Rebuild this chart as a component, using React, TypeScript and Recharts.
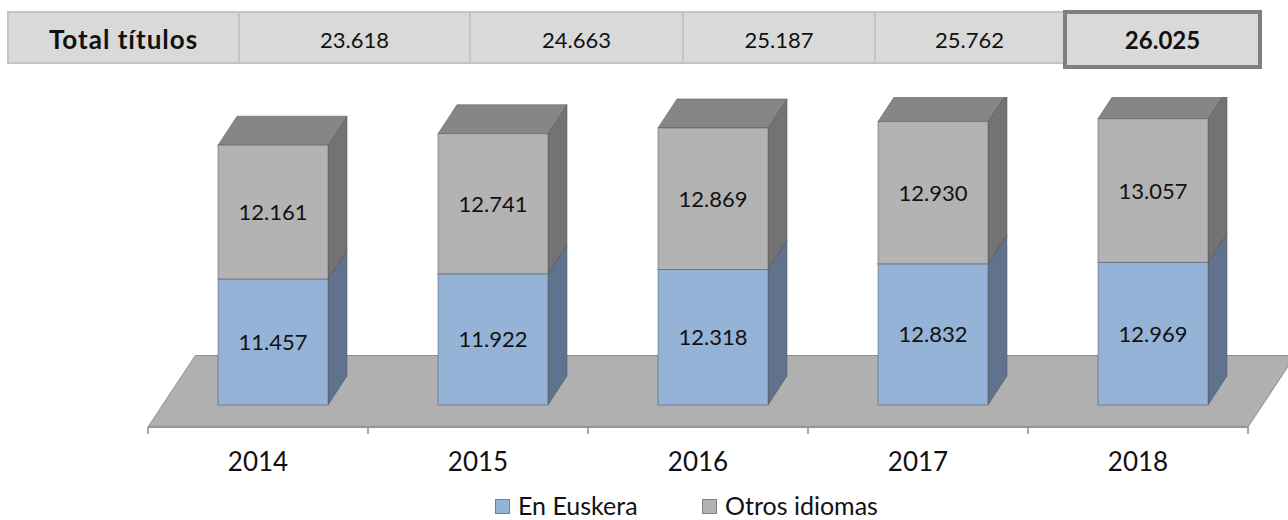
import React from 'react';
import { BarChart, Bar, XAxis, YAxis, ReferenceArea, LabelList, Legend } from 'recharts';

// values
const years = ['2014', '2015', '2016', '2017', '2018'];
const euskera = [11457, 11922, 12318, 12832, 12969];
const otros = [12161, 12741, 12869, 12930, 13057];
const totals = [23618, 24663, 25187, 25762, 26025];
const seriesNames = ['En Euskera', 'Otros idiomas'];
const totalLabel = 'Total títulos';

const data = years.map((year, i) => ({ year, euskera: euskera[i], otros: otros[i] }));

// layout
const W = 1288;
const H = 520;
const PLOT_LEFT = 148;
const PLOT_RIGHT = 1248;
const PLOT_TOP = 97;
const PLOT_BOTTOM = 427;
const AXIS_H = 60;
const BAND = (PLOT_RIGHT - PLOT_LEFT) / years.length;
const SHIFT_X = 15; // bars stand a bit back on the floor
const DX = 19;
const DY = 29;
const FONT = 'Lato, "Open Sans", sans-serif';

const cellEdges = [7, 238, 469, 682, 874, 1063, 1262];

const fmt = (n: number) => String(n).replace(/\B(?=(\d{3})+(?!\d))/g, '.');

const makeBox = (front: string, side: string, top: string) => (props: any) => {
  const { x, y, width, height } = props;
  if (height == null || height <= 0) return null;
  const fx = x + SHIFT_X;
  const edge = 'rgba(90,90,90,0.55)';
  return (
    <g>
      <polygon
        points={`${fx + width},${y + height} ${fx + width + DX},${y + height - DY} ${fx + width + DX},${y - DY} ${fx + width},${y}`}
        fill={side}
        stroke={edge}
        strokeWidth={1}
      />
      <polygon
        points={`${fx},${y} ${fx + DX},${y - DY} ${fx + width + DX},${y - DY} ${fx + width},${y}`}
        fill={top}
        stroke={edge}
        strokeWidth={1}
      />
      <rect x={fx} y={y} width={width} height={height} fill={front} stroke={edge} strokeWidth={1} />
    </g>
  );
};

const euskeraBox = makeBox('#95b3d7', '#5f738f', '#7a90ad');
const otrosBox = makeBox('#b3b3b3', '#737373', '#868686');

const Floor = (props: any) => {
  const { x, y, width, height } = props;
  const slant = (height * 47) / 71;
  return (
    <polygon
      points={`${x},${y + height} ${x + width},${y + height} ${x + width + slant},${y} ${x + slant},${y}`}
      fill="#b0b0b0"
      stroke="#8f8f8f"
      strokeWidth={1}
    />
  );
};

const renderValue = (props: any) => {
  const vb = props.viewBox || props;
  const x = (vb.x ?? props.x) + SHIFT_X + (vb.width ?? props.width) / 2;
  const y = (vb.y ?? props.y) + (vb.height ?? props.height) / 2;
  return (
    <text x={x} y={y + 8} textAnchor="middle" fontFamily={FONT} fontSize={22} fill="#111">
      {fmt(Number(props.value))}
    </text>
  );
};

const YearTick = (props: any) => {
  const { x, y, payload, index } = props;
  const half = BAND / 2;
  return (
    <g>
      <line x1={x - half} y1={y - 7} x2={x - half} y2={y} stroke="#8c8c8c" strokeWidth={1.5} />
      {index === years.length - 1 && (
        <line x1={x + half} y1={y - 7} x2={x + half} y2={y} stroke="#8c8c8c" strokeWidth={1.5} />
      )}
      <text x={x} y={y + 37} textAnchor="middle" fontFamily={FONT} fontSize={26} fill="#111">
        {payload.value}
      </text>
    </g>
  );
};

const legendColors = ['#95b3d7', '#b3b3b3'];

const renderLegend = () => (
  <div style={{ display: 'flex', alignItems: 'center', fontFamily: FONT, fontSize: 25, color: '#111', height: 29 }}>
    {seriesNames.map((name, i) => (
      <div key={name} style={{ display: 'flex', alignItems: 'center', width: i === 0 ? 207 : 'auto' }}>
        <span
          style={{
            display: 'inline-block',
            width: 15,
            height: 15,
            background: legendColors[i],
            border: '1px solid #7f7f7f',
            boxSizing: 'border-box',
            marginRight: 8,
            marginTop: 2,
          }}
        />
        <span style={{ lineHeight: '29px', whiteSpace: 'nowrap' }}>{name}</span>
      </div>
    ))}
  </div>
);

const TotalsRow = () => (
  <>
    {[totalLabel, ...totals.map(fmt)].map((txt, i) => {
      const last = i === cellEdges.length - 2;
      const left = cellEdges[i];
      const width = cellEdges[i + 1] - left;
      return (
        <div
          key={i}
          style={{
            position: 'absolute',
            left,
            top: last ? 10 : 11,
            width,
            height: last ? 59 : 53,
            boxSizing: 'border-box',
            background: '#d9d9d9',
            border: last ? '4px solid #7f7f7f' : '2px solid #c4c4c4',
            borderRight: last ? '4px solid #7f7f7f' : 'none',
            display: 'flex',
            alignItems: 'center',
            justifyContent: 'center',
            paddingTop: last ? 0 : 3,
            fontFamily: FONT,
            fontSize: i === 0 ? 26 : last ? 24 : 22,
            letterSpacing: i === 0 ? 1 : 0,
            fontWeight: i === 0 || last ? 700 : 400,
            color: '#111',
          }}
        >
          {txt}
        </div>
      );
    })}
  </>
);

const App: React.FC = () => {
  return (
    <div style={{ position: 'absolute', left: 0, top: 0, width: W, height: H, background: '#fff' }}>
      <TotalsRow />
      <div style={{ position: 'absolute', left: 0, top: 0 }}>
        <BarChart
          width={W}
          height={H}
          data={data}
          barCategoryGap="25%"
          margin={{ top: PLOT_TOP, right: W - PLOT_RIGHT, bottom: H - PLOT_BOTTOM - AXIS_H, left: PLOT_LEFT }}
        >
          <YAxis hide domain={[-2000, 28000]} allowDataOverflow />
          <ReferenceArea y1={-2000} y2={4500} shape={<Floor />} ifOverflow="visible" />
          <XAxis
            dataKey="year"
            height={AXIS_H}
            axisLine={{ stroke: '#8c8c8c', strokeWidth: 1.5 }}
            tickLine={false}
            tickSize={7}
            tickMargin={0}
            tick={<YearTick />}
            interval={0}
          />
          <Bar dataKey="euskera" name={seriesNames[0]} stackId="a" fill="#95b3d7" shape={euskeraBox} isAnimationActive={false}>
            <LabelList dataKey="euskera" content={renderValue} />
          </Bar>
          <Bar dataKey="otros" name={seriesNames[1]} stackId="a" fill="#b3b3b3" shape={otrosBox} isAnimationActive={false}>
            <LabelList dataKey="otros" content={renderValue} />
          </Bar>
          <Legend
            verticalAlign="middle"
            align="center"
            wrapperStyle={{ top: 491, left: 495, width: 440, height: 29 }}
            content={renderLegend}
          />
        </BarChart>
      </div>
    </div>
  );
};

export default App;
